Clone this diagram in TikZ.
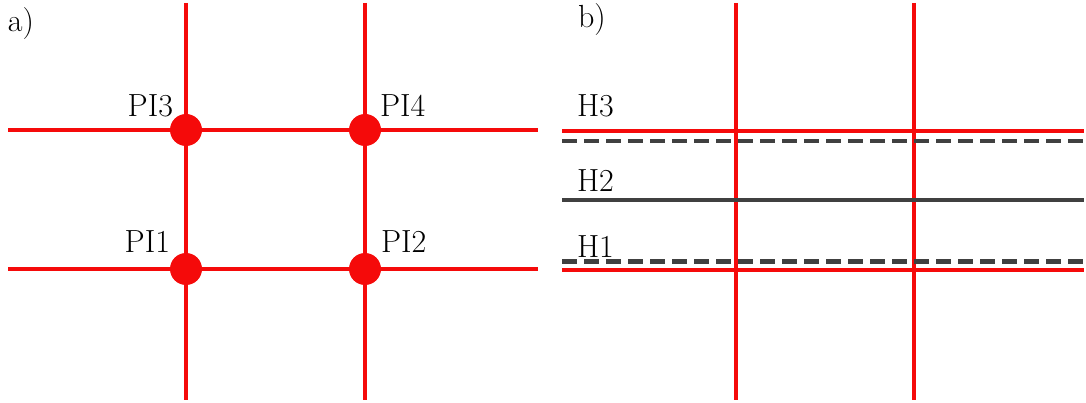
\documentclass[tikz,border=0pt]{standalone}
\definecolor{gridRed}{HTML}{F50A0A}
\definecolor{gridGray}{HTML}{404040}
\tikzset{
  grid diagram/.style={
    x=1pt, y=-1pt,
    every node/.style={font=\rmfamily\fontsize{32}{38}\selectfont,
      text=black, inner sep=0pt, outer sep=0pt}
  },
  grid line/.style={draw=gridRed, line width=4pt},
  level line/.style={draw=gridGray, line width=4pt},
  level dashed/.style={level line, dash pattern=on 15pt off 7pt},
  pi dot/.style={circle, fill=gridRed, minimum size=32pt}
}

\begin{document}
\begin{tikzpicture}[grid diagram]
    \useasboundingbox (0,0) rectangle (1086,403);
    % panel a
    \node[anchor=base west] (tag a) at (8,32) {a)};
    \foreach \x/\n in {186/l, 365/r}{
      \coordinate (a\n top) at (\x,3);
      \coordinate (a\n bot) at (\x,400);
      \draw[grid line] (a\n top) -- (a\n bot);
    }
    \foreach \y/\n in {130/u, 269/d}{
      \coordinate (a\n west) at (8,\y);
      \coordinate (a\n east) at (538,\y);
      \draw[grid line] (a\n west) -- (a\n east);
    }
    \node[pi dot] (pi1) at (186,269) {};
    \node[pi dot] (pi2) at (365,269) {};
    \node[pi dot] (pi3) at (186,130) {};
    \node[pi dot] (pi4) at (365,130) {};
    \node[anchor=base east] (pi1 label) at ([shift={(-16,-16)}]pi1.center) {PI1};
    \node[anchor=base west] (pi2 label) at ([shift={(16,-16)}]pi2.center) {PI2};
    \node[anchor=base east] (pi3 label) at ([shift={(-13,-13)}]pi3.center) {PI3};
    \node[anchor=base west] (pi4 label) at ([shift={(15,-13)}]pi4.center) {PI4};
    % panel b
    \node[anchor=base west] (tag b) at (578,28) {b)};
    \foreach \x/\n in {736/l, 914/r}{
      \coordinate (b\n top) at (\x,3);
      \coordinate (b\n bot) at (\x,400);
      \draw[grid line] (b\n top) -- (b\n bot);
    }
    \foreach \y/\n in {131/u, 269.5/d}{
      \coordinate (b\n west) at (562,\y);
      \coordinate (b\n east) at (1084,\y);
      \draw[grid line] (b\n west) -- (b\n east);
    }
    \coordinate (h3 west) at (562,140.7);
    \coordinate (h3 east) at (1084,140.7);
    \coordinate (h2 west) at (562,200);
    \coordinate (h2 east) at (1084,200);
    \coordinate (h1 west) at (562,261.5);
    \coordinate (h1 east) at (1084,261.5);
    \draw[level dashed] (h3 west) -- (h3 east);
    \draw[level line] (h2 west) -- (h2 east);
    \draw[level dashed] (h1 west) -- (h1 east);
    \node[anchor=base west] (h3 label) at (577,117) {H3};
    \node[anchor=base west] (h2 label) at (577,192) {H2};
    \node[anchor=base west] (h1 label) at (577,258) {H1};
  \end{tikzpicture}
\end{document}
